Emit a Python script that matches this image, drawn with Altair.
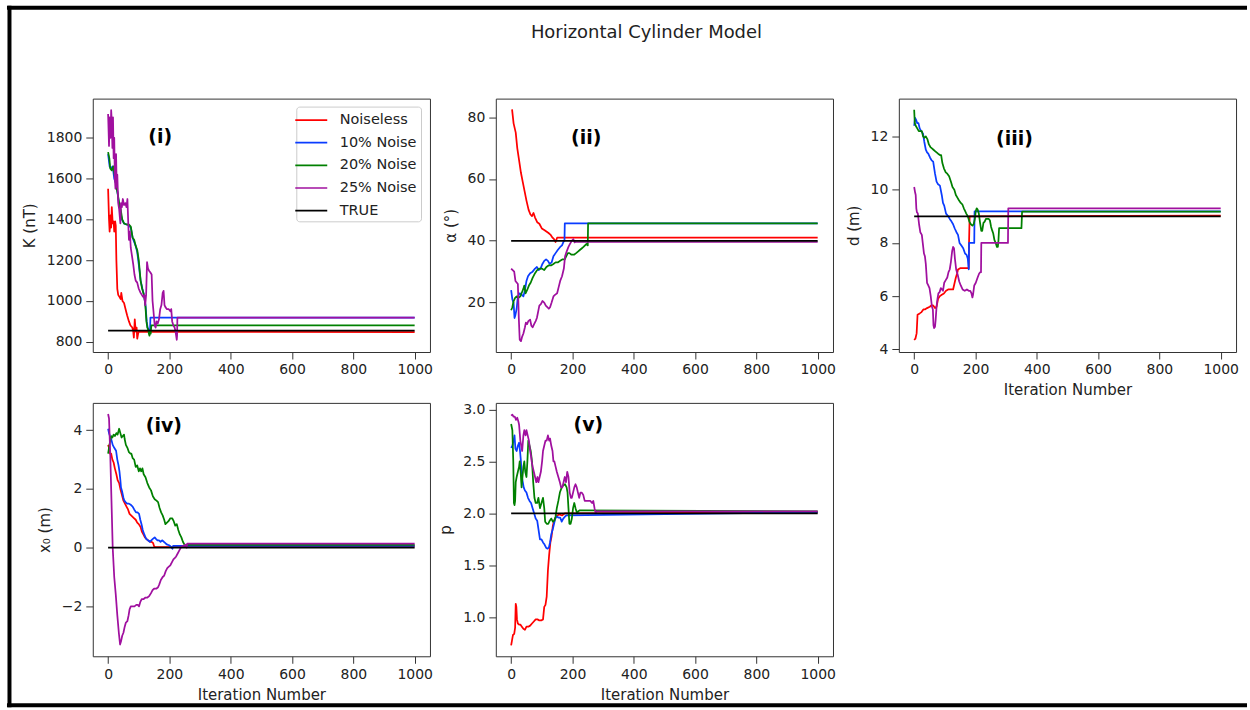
import altair as alt
import pandas as pd

# ---------------------------------------------------------------------------
# Series names, colours and shared iteration axis
# ---------------------------------------------------------------------------
SERIES = ["Noiseless", "10% Noise", "20% Noise", "25% Noise", "TRUE"]
COLORS = ["#ff0000", "#0a3cff", "#008000", "#a0109f", "#000000"]
ITER_DOMAIN = [-50, 1050]
ITER_TICKS = [0, 200, 400, 600, 800, 1000]

# ---------------------------------------------------------------------------
# (i) amplitude coefficient K (nT): (iteration, value) pairs
# ---------------------------------------------------------------------------
K_TRUE = 855
K_NOISELESS = [(0, 1550), (3, 1400), (5, 1340), (8, 1420), (10, 1360), (12, 1460), (15, 1380),
               (18, 1390), (20, 1340), (23, 1390), (25, 1370), (27, 1200), (30, 1060), (33, 1030),
               (37, 1020), (41, 1010), (43, 1040), (47, 1000), (52, 990), (57, 960), (62, 930),
               (68, 900), (73, 880), (79, 870), (82, 850), (84, 820), (87, 910), (90, 850),
               (93, 870), (95, 815), (98, 840), (100, 850), (1000, 848)]
K_NOISE10 = [(0, 1720), (5, 1660), (10, 1650), (15, 1660), (20, 1600), (25, 1580), (30, 1540),
             (35, 1480), (40, 1440), (45, 1400), (52, 1380), (60, 1375), (68, 1370), (74, 1360),
             (80, 1310), (85, 1290), (90, 1270), (95, 1240), (100, 1180), (106, 1100), (112, 1060),
             (117, 1030), (122, 980), (126, 900), (129, 870), (132, 860), (137, 860), (138, 919),
             (1000, 919)]
K_NOISE20 = [(0, 1730), (4, 1700), (7, 1650), (12, 1640), (17, 1660), (22, 1610), (27, 1560),
             (32, 1520), (37, 1470), (41, 1450), (46, 1400), (52, 1380), (60, 1375), (68, 1375),
             (74, 1365), (80, 1310), (85, 1300), (90, 1270), (95, 1250), (100, 1200), (106, 1100),
             (111, 1060), (117, 1030), (120, 1000), (122, 970), (125, 900), (128, 870), (131, 860),
             (133, 840), (135, 830), (137, 850), (139, 840), (141, 880), (1000, 880)]
K_NOISE25 = [(0, 1917), (3, 1760), (5, 1900), (8, 1800), (10, 1935), (12, 1880), (14, 1750),
             (16, 1900), (18, 1700), (20, 1800), (22, 1600), (24, 1550), (26, 1720), (28, 1560),
             (30, 1620), (33, 1480), (36, 1450), (40, 1380), (42, 1480), (45, 1460), (48, 1500),
             (52, 1470), (56, 1480), (60, 1460), (63, 1500), (66, 1370), (68, 1300), (71, 1340),
             (74, 1260), (78, 1220), (82, 1180), (86, 1130), (90, 1100), (95, 1090), (100, 1060),
             (106, 1040), (110, 1030), (114, 1020), (118, 1030), (121, 980), (124, 1030),
             (127, 1190), (130, 1160), (133, 1150), (138, 1140), (142, 1130), (145, 1000),
             (148, 950), (152, 880), (155, 870), (158, 900), (162, 890), (166, 910), (170, 960),
             (174, 980), (178, 1040), (181, 1050), (184, 980), (187, 970), (192, 960), (198, 960),
             (203, 950), (206, 960), (209, 900), (213, 880), (217, 870), (220, 850), (224, 810),
             (225, 830), (226, 919), (1000, 919)]

# ---------------------------------------------------------------------------
# (ii) inclination alpha (degrees)
# ---------------------------------------------------------------------------
A_TRUE = 40
A_NOISELESS = [(3, 82.5), (8, 78), (15, 75), (20, 70), (26, 66), (32, 62), (38, 59), (44, 56),
               (50, 53), (57, 50), (63, 48.5), (68, 48), (73, 49), (78, 47.5), (85, 46),
               (92, 45.5), (100, 44), (108, 43.5), (115, 43), (122, 42.5), (128, 42), (135, 41),
               (140, 40.5), (145, 39.6), (150, 41), (1000, 41)]
A_NOISE10 = [(0, 24), (4, 21), (8, 20), (11, 15), (14, 16), (18, 18), (22, 22), (28, 23),
             (35, 22.5), (40, 22), (45, 24), (50, 27), (55, 28.5), (62, 29.5), (70, 30), (78, 31),
             (84, 31.5), (90, 30.5), (96, 31), (102, 32.5), (108, 33.5), (114, 34), (120, 33.5),
             (126, 32.5), (132, 33), (138, 35), (145, 36), (152, 37), (160, 38), (166, 38.5),
             (170, 39.5), (174, 40), (175, 45.6), (1000, 45.6)]
A_NOISE20 = [(0, 17.5), (4, 18.5), (8, 20.5), (13, 21.5), (18, 22), (24, 21.5), (30, 22),
             (36, 23.5), (40, 24.5), (43, 25.5), (47, 23), (52, 24), (58, 25.5), (64, 26.5),
             (70, 28), (78, 29.5), (85, 30.5), (92, 31), (100, 31), (108, 30.5), (115, 31.5),
             (122, 32), (130, 32), (138, 32.5), (145, 33), (152, 33), (160, 33.5), (168, 34),
             (175, 34), (180, 35), (185, 36), (190, 36), (197, 35.5), (205, 35.5), (212, 36),
             (218, 36.5), (224, 37), (230, 37.5), (236, 38), (241, 38.5), (246, 39), (250, 38.5),
             (251, 45.6), (1000, 45.6)]
A_NOISE25 = [(0, 31), (5, 30.5), (10, 30), (14, 27), (18, 26.5), (22, 26), (25, 15), (28, 8),
             (32, 7.5), (36, 9), (40, 10), (45, 12), (48, 13.5), (52, 13), (56, 14), (62, 14.5),
             (66, 12.5), (70, 12), (75, 13), (80, 14), (84, 15), (88, 17), (92, 19), (97, 19.5),
             (102, 20.5), (108, 20), (113, 19), (118, 18.5), (123, 18), (127, 18.5), (132, 20),
             (138, 22), (143, 22.5), (150, 23), (155, 25), (160, 27), (166, 28.5), (172, 31),
             (176, 35), (181, 36.5), (187, 38), (192, 39), (198, 40), (203, 40.5), (207, 39.5),
             (210, 39.6), (1000, 39.6)]

# ---------------------------------------------------------------------------
# (iii) depth d (m)
# ---------------------------------------------------------------------------
D_TRUE = 9.0
D_NOISELESS = [(0, 4.35), (4, 4.4), (8, 4.6), (11, 5.3), (18, 5.35), (24, 5.4), (30, 5.5),
               (35, 5.5), (42, 5.55), (51, 5.6), (56, 5.65), (62, 5.65), (68, 5.55), (73, 5.6),
               (78, 5.9), (84, 6.0), (90, 6.05), (97, 6.1), (104, 6.2), (111, 6.25), (120, 6.25),
               (127, 6.25), (132, 6.5), (136, 6.7), (140, 6.85), (143, 7.0), (150, 7.05),
               (160, 7.05), (170, 7.05), (178, 7.05), (179, 8.0), (181, 9.0), (1000, 9.02)]
D_NOISE10 = [(0, 12.4), (3, 12.7), (7, 12.6), (10, 12.5), (14, 12.5), (18, 12.3), (23, 12.2),
             (29, 12.1), (33, 11.8), (38, 11.5), (42, 11.4), (46, 11.35), (52, 11.2), (57, 11.1),
             (62, 11.05), (68, 10.6), (73, 10.3), (78, 10.2), (84, 10.15), (90, 9.8), (94, 9.5),
             (98, 9.4), (104, 9.1), (111, 9.0), (116, 8.9), (122, 8.8), (127, 8.7), (132, 8.55),
             (138, 8.4), (143, 8.3), (148, 8.0), (154, 7.9), (160, 7.8), (166, 7.6), (171, 7.55),
             (175, 7.4), (178, 7.0), (179, 8.0), (196, 8.0), (197, 9.18), (1000, 9.18)]
D_NOISE20 = [(0, 13.0), (2, 12.5), (5, 12.4), (10, 12.3), (15, 12.2), (20, 12.2), (25, 12.2),
             (29, 12.0), (33, 11.95), (38, 12.0), (43, 11.9), (48, 11.7), (53, 11.6), (58, 11.55),
             (63, 11.5), (68, 11.45), (73, 11.4), (78, 11.35), (84, 11.3), (88, 11.3), (92, 11.0),
             (97, 10.8), (103, 10.65), (108, 10.6), (114, 10.5), (120, 10.3), (125, 10.1),
             (131, 10.0), (136, 9.8), (141, 9.7), (146, 9.6), (152, 9.5), (157, 9.45), (162, 9.3),
             (166, 9.2), (170, 9.1), (175, 9.0), (180, 8.8), (185, 8.7), (190, 8.65), (194, 8.7),
             (198, 8.9), (201, 9.2), (204, 9.3), (207, 9.25), (211, 9.1), (215, 8.75),
             (219, 8.45), (222, 8.45), (226, 8.75), (230, 8.8), (234, 8.9), (238, 8.9),
             (243, 8.9), (247, 8.85), (251, 8.6), (255, 8.45), (258, 8.35), (262, 8.1),
             (266, 8.0), (270, 7.85), (273, 7.85), (275, 8.1), (277, 8.55), (350, 8.55),
             (352, 9.17), (1000, 9.17)]
D_NOISE25 = [(0, 10.1), (3, 9.9), (5, 9.8), (7, 9.3), (9, 9.15), (12, 9.1), (16, 8.7), (20, 8.4),
             (25, 8.3), (28, 8.0), (32, 7.6), (35, 7.5), (38, 7.2), (42, 6.5), (46, 6.4),
             (50, 6.3), (54, 6.0), (58, 5.6), (61, 5.5), (63, 4.9), (65, 4.8), (68, 4.85),
             (70, 5.1), (73, 5.6), (76, 5.9), (79, 6.1), (83, 6.15), (87, 6.3), (91, 6.25),
             (94, 6.2), (98, 6.5), (103, 6.6), (108, 6.7), (112, 6.9), (116, 7.0), (120, 7.3),
             (124, 7.7), (127, 7.85), (130, 7.8), (133, 7.4), (137, 7.0), (142, 6.8), (147, 6.55),
             (152, 6.4), (158, 6.25), (165, 6.2), (172, 6.25), (178, 6.2), (183, 6.2), (187, 6.1),
             (190, 5.95), (192, 6.05), (196, 6.4), (201, 6.5), (207, 6.7), (212, 6.85),
             (216, 6.9), (218, 6.9), (219, 8.0), (306, 8.0), (307, 9.3), (1000, 9.3)]

# ---------------------------------------------------------------------------
# (iv) horizontal position x0 (m)
# ---------------------------------------------------------------------------
X_TRUE = 0.0
X_NOISELESS = [(0, 3.5), (3, 3.4), (6, 3.2), (10, 3.2), (14, 3.0), (18, 2.9), (22, 2.7),
               (27, 2.5), (31, 2.3), (36, 2.2), (40, 2.0), (45, 1.8), (50, 1.6), (55, 1.5),
               (60, 1.4), (65, 1.3), (70, 1.15), (75, 1.1), (80, 1.05), (85, 1.0), (90, 0.95),
               (95, 0.85), (100, 0.8), (106, 0.7), (110, 0.55), (115, 0.45), (120, 0.35),
               (125, 0.3), (130, 0.25), (137, 0.2), (142, 0.2), (147, 0.15), (150, 0.05),
               (153, 0.02), (1000, 0.04)]
X_NOISE10 = [(0, 4.05), (3, 3.9), (6, 3.8), (10, 3.7), (15, 3.5), (20, 3.4), (26, 3.3), (30, 3.0),
             (34, 2.8), (37, 2.6), (40, 2.3), (42, 2.05), (46, 1.9), (50, 1.7), (53, 1.6),
             (57, 1.55), (62, 1.5), (68, 1.5), (75, 1.45), (80, 1.4), (85, 1.3), (91, 1.2),
             (96, 1.2), (101, 1.15), (105, 0.95), (109, 0.8), (113, 0.6), (118, 0.45), (124, 0.3),
             (130, 0.25), (136, 0.2), (141, 0.25), (146, 0.3), (152, 0.35), (156, 0.3),
             (161, 0.25), (166, 0.25), (171, 0.2), (176, 0.25), (182, 0.2), (187, 0.15),
             (193, 0.1), (199, 0.08), (205, 0.03), (210, -0.04), (212, 0.06), (1000, 0.06)]
X_NOISE20 = [(0, 3.2), (3, 3.4), (6, 3.6), (10, 3.8), (14, 3.75), (18, 3.85), (22, 3.8), (27, 3.9),
             (31, 3.85), (36, 4.05), (40, 3.9), (44, 3.75), (48, 3.8), (52, 3.85), (54, 3.7),
             (58, 3.5), (63, 3.4), (68, 3.25), (73, 3.2), (76, 3.2), (80, 3.05), (85, 3.0),
             (90, 2.75), (95, 2.8), (100, 2.6), (104, 2.7), (108, 2.6), (112, 2.7), (116, 2.5),
             (122, 2.4), (128, 2.2), (134, 2.05), (140, 1.95), (146, 1.75), (152, 1.65),
             (158, 1.6), (163, 1.55), (168, 1.35), (173, 1.2), (178, 1.1), (183, 0.95),
             (187, 0.8), (192, 0.85), (197, 0.9), (203, 1.0), (209, 1.0), (214, 0.9), (219, 0.75),
             (224, 0.8), (229, 0.6), (234, 0.45), (239, 0.35), (244, 0.2), (249, 0.1),
             (253, 0.05), (256, 0.09), (1000, 0.09)]
X_NOISE25 = [(0, 4.55), (3, 4.4), (7, 3.2), (11, 1.6), (15, 0.0), (18, -0.6), (20, -1.0),
             (25, -1.6), (30, -2.3), (35, -2.9), (39, -3.3), (42, -3.2), (46, -3.0), (50, -2.9),
             (54, -2.7), (58, -2.55), (63, -2.5), (67, -2.3), (70, -2.1), (74, -2.0), (80, -2.0),
             (86, -2.0), (92, -1.95), (97, -1.95), (101, -2.0), (105, -1.85), (110, -1.75),
             (116, -1.75), (122, -1.7), (128, -1.7), (134, -1.65), (140, -1.55), (145, -1.45),
             (150, -1.4), (157, -1.4), (163, -1.35), (167, -1.25), (172, -1.1), (178, -1.0),
             (183, -0.95), (188, -0.8), (193, -0.7), (198, -0.65), (203, -0.6), (208, -0.5),
             (213, -0.4), (218, -0.35), (222, -0.3), (227, -0.2), (232, -0.1), (237, 0.0),
             (242, 0.05), (247, 0.05), (252, 0.1), (256, 0.0), (258, 0.14), (1000, 0.14)]

# ---------------------------------------------------------------------------
# (v) shape factor p
# ---------------------------------------------------------------------------
P_TRUE = 2.0
P_NOISELESS = [(0, 0.73), (3, 0.78), (6, 0.83), (10, 0.84), (13, 0.9), (15, 1.13), (17, 1.1),
               (19, 0.98), (22, 0.94), (26, 0.93), (30, 0.93), (35, 0.91), (40, 0.89), (45, 0.88),
               (50, 0.91), (56, 0.91), (62, 0.92), (68, 0.94), (74, 0.96), (80, 0.98), (86, 0.98),
               (92, 0.97), (98, 0.97), (104, 0.98), (108, 1.1), (112, 1.12), (116, 1.2),
               (120, 1.45), (124, 1.6), (128, 1.72), (132, 1.78), (136, 1.88), (140, 1.93),
               (145, 1.96), (150, 1.98), (158, 1.99), (166, 1.98), (175, 2.0), (1000, 2.01)]
P_NOISE10 = [(0, 2.63), (4, 2.65), (8, 2.7), (11, 2.75), (14, 2.62), (18, 2.6), (22, 2.65),
             (26, 2.68), (29, 2.6), (32, 2.5), (35, 2.35), (38, 2.3), (41, 2.25), (45, 2.22),
             (50, 2.2), (55, 2.15), (60, 2.12), (65, 2.1), (70, 2.05), (75, 2.0), (80, 1.95),
             (85, 1.93), (89, 1.85), (94, 1.75), (99, 1.75), (104, 1.72), (109, 1.7), (114, 1.67),
             (119, 1.66), (123, 1.67), (127, 1.72), (131, 1.8), (136, 1.85), (140, 1.9),
             (144, 1.95), (149, 1.97), (154, 1.96), (160, 1.96), (165, 1.92), (170, 1.95),
             (176, 1.97), (180, 1.98), (1000, 2.01)]
P_NOISE20 = [(0, 2.86), (4, 2.8), (7, 2.5), (9, 2.1), (11, 2.08), (13, 2.12), (15, 2.3), (18, 2.35),
             (22, 2.4), (26, 2.45), (28, 2.5), (31, 2.4), (34, 2.25), (37, 2.35), (40, 2.45),
             (43, 2.5), (46, 2.4), (50, 2.35), (53, 2.5), (56, 2.7), (60, 2.65), (64, 2.6),
             (68, 2.5), (72, 2.3), (76, 2.15), (80, 2.1), (85, 2.1), (89, 2.15), (94, 2.05),
             (99, 2.1), (104, 2.15), (108, 2.05), (111, 1.92), (116, 1.9), (121, 1.9), (126, 1.93),
             (131, 1.95), (136, 1.92), (141, 1.93), (145, 1.97), (149, 2.05), (154, 2.12),
             (159, 2.2), (165, 2.25), (170, 2.27), (176, 2.28), (181, 2.25), (184, 2.2),
             (187, 2.05), (190, 1.9), (194, 1.9), (198, 1.95), (202, 2.05), (206, 2.1), (210, 2.05),
             (215, 2.0), (219, 2.02), (224, 2.03), (1000, 2.02)]
P_NOISE25 = [(0, 2.94), (4, 2.95), (8, 2.93), (12, 2.93), (16, 2.9), (20, 2.92), (24, 2.88),
             (26, 2.85), (30, 2.7), (33, 2.65), (36, 2.6), (40, 2.75), (43, 2.8), (47, 2.75),
             (50, 2.8), (54, 2.75), (58, 2.7), (62, 2.6), (65, 2.55), (67, 2.5), (70, 2.45),
             (74, 2.4), (78, 2.35), (82, 2.3), (86, 2.35), (89, 2.3), (93, 2.35), (97, 2.4),
             (101, 2.5), (104, 2.6), (108, 2.65), (112, 2.7), (116, 2.7), (120, 2.75), (124, 2.7),
             (127, 2.72), (131, 2.65), (135, 2.6), (138, 2.5), (141, 2.5), (145, 2.45), (149, 2.4),
             (154, 2.35), (159, 2.3), (163, 2.25), (167, 2.25), (171, 2.3), (175, 2.35),
             (179, 2.3), (183, 2.4), (187, 2.35), (191, 2.2), (195, 2.15), (198, 2.15), (202, 2.2),
             (206, 2.25), (210, 2.28), (214, 2.25), (218, 2.2), (222, 2.15), (226, 2.2),
             (230, 2.2), (235, 2.18), (240, 2.12), (246, 2.12), (252, 2.12), (258, 2.12),
             (264, 2.1), (268, 2.12), (272, 2.05), (276, 2.0), (279, 2.02), (1000, 2.02)]

FONT = "DejaVu Sans"
INK = "#222222"
PANEL_W, PANEL_H = 338, 254


def long_table(runs, true_value):
    """Stack the four estimate runs and the true-value line into one table."""
    rows = []
    for name, run in zip(SERIES[:4], runs):
        for it, val in run:
            rows.append({"iteration": it, "value": val, "series": name})
    for it in (0, 1000):
        rows.append({"iteration": it, "value": true_value, "series": "TRUE"})
    return pd.DataFrame(rows)


def panel(runs, true_value, y_title, y_domain, y_ticks, y_format, tag, tag_pos,
          x_title=None, legend=None, extras=()):
    df = long_table(runs, true_value)
    x = alt.X("iteration:Q",
              scale=alt.Scale(domain=ITER_DOMAIN, nice=False, zero=False),
              axis=alt.Axis(values=ITER_TICKS, format="d", labelFlush=False,
                            title=x_title if x_title else None, titlePadding=6))
    y = alt.Y("value:Q",
              scale=alt.Scale(domain=y_domain, nice=False, zero=False),
              axis=alt.Axis(values=y_ticks, format=y_format, title=y_title, titlePadding=9))
    lines = alt.Chart(df).mark_line(strokeWidth=1.75, strokeJoin="round").encode(
        x=x, y=y,
        color=alt.Color("series:N", sort=SERIES,
                        scale=alt.Scale(domain=SERIES, range=COLORS),
                        legend=legend),
    )
    tag_df = pd.DataFrame({"iteration": [tag_pos[0]], "value": [tag_pos[1]], "tag": [tag]})
    label = alt.Chart(tag_df).mark_text(font=FONT, fontWeight="bold", fontSize=19,
                                        color="black", align="center",
                                        baseline="middle").encode(
        x="iteration:Q", y="value:Q", text="tag:N")
    return alt.layer(lines, label, *extras).properties(width=PANEL_W, height=PANEL_H)


# Legend box drawn inside panel (i); a long horizontal stroke symbol
legend_i = alt.Legend(
    orient="none", legendX=204, legendY=8, title=None,
    symbolType="M-1.78,0L1.78,0", symbolSize=324, symbolStrokeWidth=1.75,
    symbolOffset=1.5,
    labelFont=FONT, labelFontSize=14.5, labelColor=INK, labelOffset=18.5,
    rowPadding=5.7, padding=3.5, strokeColor="#cccccc", fillColor="white",
    cornerRadius=3,
)

# Figure frame and suptitle, positioned in pixels relative to panel (i)
one = pd.DataFrame({"k": [0]})
frame_top = alt.Chart(one).mark_rule(color="black", strokeWidth=4).encode(
    x=alt.value(-86), x2=alt.value(1157), y=alt.value(-91))
frame_left = alt.Chart(one).mark_rule(color="black", strokeWidth=4).encode(
    x=alt.value(-83.5), y=alt.value(-93), y2=alt.value(610))
frame_bottom = alt.Chart(one).mark_rule(color="black", strokeWidth=4).encode(
    x=alt.value(-86), x2=alt.value(1157), y=alt.value(608))
suptitle = alt.Chart(pd.DataFrame({"t": ["Horizontal Cylinder Model"]})).mark_text(
    font=FONT, fontSize=18, color=INK, align="center", baseline="middle").encode(
    x=alt.value(555), y=alt.value(-66), text="t:N")

p1 = panel([K_NOISELESS, K_NOISE10, K_NOISE20, K_NOISE25], K_TRUE, "K (nT)",
           [750, 1992], [800, 1000, 1200, 1400, 1600, 1800], "d", "(i)", (170, 1805),
           legend=legend_i, extras=(frame_top, frame_left, frame_bottom, suptitle))
p2 = panel([A_NOISELESS, A_NOISE10, A_NOISE20, A_NOISE25], A_TRUE, "α (°)",
           [4, 86], [20, 40, 60, 80], "d", "(ii)", (245, 73.4))
p3 = panel([D_NOISELESS, D_NOISE10, D_NOISE20, D_NOISE25], D_TRUE, "d (m)",
           [3.9, 13.42], [4, 6, 8, 10, 12], "d", "(iii)", (327, 11.9),
           x_title="Iteration Number")
p4 = panel([X_NOISELESS, X_NOISE10, X_NOISE20, X_NOISE25], X_TRUE, "x₀ (m)",
           [-3.7, 4.93], [-2, 0, 2, 4], "d", "(iv)", (182, 4.15),
           x_title="Iteration Number")
p5 = panel([P_NOISELESS, P_NOISE10, P_NOISE20, P_NOISE25], P_TRUE, "p",
           [0.625, 3.063], [1.0, 1.5, 2.0, 2.5, 3.0], ".1f", "(v)", (252, 2.85),
           x_title="Iteration Number")

chart = (
    alt.concat(p1, p2, p3, p4, p5, columns=3, spacing={"row": 51, "column": 66},
               bounds="flush")
    .resolve_scale(color="independent")
    .resolve_legend(color="independent")
    .properties(padding={"left": 4, "top": 2, "right": 0, "bottom": 0},
                background="white")
    .configure(font=FONT)
    .configure_view(stroke="#333333", strokeWidth=1)
    .configure_axis(grid=False, domain=False, ticks=True, tickColor="#333333", tickSize=7,
                    tickWidth=1, labelFont=FONT, labelFontSize=14, labelColor=INK,
                    labelPadding=4, titleFont=FONT, titleFontSize=15,
                    titleFontWeight="normal", titleColor=INK)
)

chart.save("out.html", embed_options={"renderer": "svg", "actions": False})
